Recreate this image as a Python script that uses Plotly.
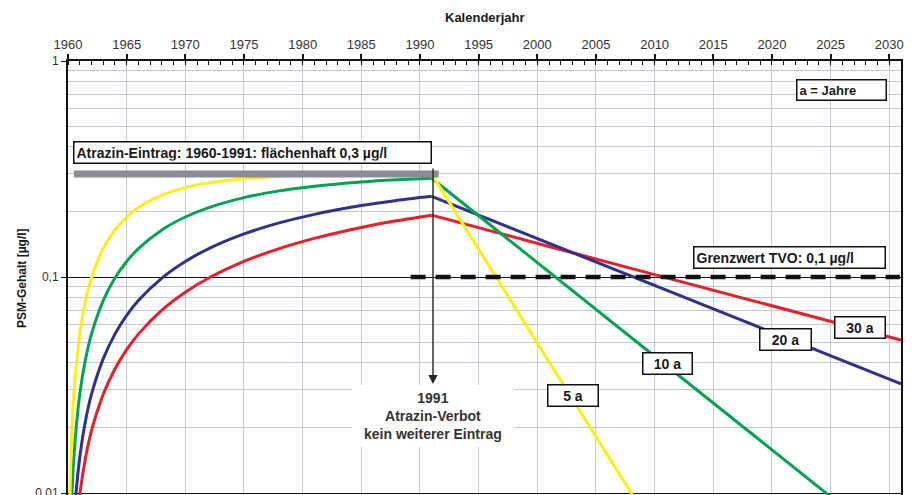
import plotly.graph_objects as go

# ---- data ----
rise_years = [1960.1, 1960.25, 1960.5, 1961, 1961.5, 1962, 1963, 1964, 1965, 1966,
              1968, 1970, 1972, 1975, 1978, 1981, 1985, 1988, 1991]
rise_5a = [0.0059, 0.0146, 0.0286, 0.0544, 0.0778, 0.0989, 0.1354, 0.1652, 0.1896, 0.2096,
           0.2394, 0.2594, 0.2728, 0.2851, 0.2918, 0.2955, 0.2980, 0.2989, 0.2994]
rise_10a = [0.0030, 0.0074, 0.0146, 0.0286, 0.0418, 0.0544, 0.0778, 0.0989, 0.1180, 0.1354,
            0.1652, 0.1896, 0.2096, 0.2331, 0.2504, 0.2633, 0.2754, 0.2818, 0.2865]
rise_20a = [0.0015, 0.0037, 0.0074, 0.0146, 0.0217, 0.0286, 0.0418, 0.0544, 0.0664, 0.0778,
            0.0989, 0.1180, 0.1354, 0.1583, 0.1780, 0.1950, 0.2141, 0.2260, 0.2363]
rise_30a = [0.0010, 0.0025, 0.0050, 0.0098, 0.0146, 0.0194, 0.0286, 0.0375, 0.0461, 0.0544,
            0.0702, 0.0850, 0.0989, 0.1180, 0.1354, 0.1510, 0.1696, 0.1820, 0.1933]

decay_years = [1991, 1993, 1996, 2001, 2006, 2011, 2016, 2021, 2026, 2031]
decay_5a = [0.2994, 0.2007, 0.1101, 0.0405, 0.0149, 0.0055]
decay_10a = [0.2865, 0.2346, 0.1738, 0.1054, 0.0639, 0.0388, 0.0235, 0.0143, 0.0087]
decay_20a = [0.2363, 0.2138, 0.1840, 0.1433, 0.1116, 0.0869, 0.0677, 0.0527, 0.0411, 0.0320]
decay_30a = [0.1933, 0.1806, 0.1637, 0.1385, 0.1172, 0.0992, 0.0840, 0.0711, 0.0602, 0.0510]

input_years = [1960.5, 1991.6]
input_conc = [0.3, 0.3]
limit_years = [1989.2, 2030.9]
limit_value = [0.1, 0.1]

x_ticks = list(range(1960, 2031, 5))
y_ticks = [0.01, 0.1, 1]
y_ticktext = ["0,01", "0,1", "1"]
y_minor = [m * d for d in (0.01, 0.1) for m in range(2, 10)]

series = [
    ("30 a", rise_30a, decay_30a, "#EE1C25"),
    ("20 a", rise_20a, decay_20a, "#2E3192"),
    ("10 a", rise_10a, decay_10a, "#00A650"),
    ("5 a", rise_5a, decay_5a, "#FFEE10"),
]

FONT = "Liberation Sans, Arial, sans-serif"

fig = go.Figure()
for name, rise, decay, color in series:
    fig.add_trace(go.Scatter(x=rise_years, y=rise, mode="lines", name=name,
                             line=dict(color=color, width=3, shape="spline", smoothing=0.8),
                             showlegend=False, hoverinfo="skip"))
    fig.add_trace(go.Scatter(x=decay_years[:len(decay)], y=decay, mode="lines", name=name,
                             line=dict(color=color, width=3),
                             showlegend=False, hoverinfo="skip"))

fig.add_trace(go.Scatter(x=input_years, y=input_conc, mode="lines",
                         line=dict(color="#8A8E94", width=7), showlegend=False, hoverinfo="skip"))
fig.add_trace(go.Scatter(x=limit_years, y=limit_value, mode="lines",
                         line=dict(color="#111111", width=4.5, dash="15px,10px"),
                         showlegend=False, hoverinfo="skip"))

# page is offset by the 8px body margin: figure px = reference px - 8
OFF = 8
W, H = 914 - OFF, 495 - OFF
L, R, T, B = 68 - OFF, 901 - OFF, 61 - OFF, 495 - OFF
Y_BOTTOM = -2 - 2 / 216.0   # 0.01 sits 2px above the bottom edge


def px(xp):
    return (xp - OFF - L) / (R - L)


def py(yp):
    return (B - (yp - OFF)) / (B - T)


ann = []


def box(text, xc, yc, w, anchor="center", size=14):
    ann.append(dict(text="<b>%s</b>" % text, xref="paper", yref="paper",
                    x=px(xc), y=py(yc), xanchor=anchor, yanchor="middle",
                    showarrow=False, bgcolor="white", bordercolor="#111111",
                    borderwidth=1.5, borderpad=2, width=w,
                    align="left" if anchor == "left" else "center",
                    font=dict(family=FONT, size=size, color="#1a1a1a")))


box("Atrazin-Eintrag: 1960-1991: flächenhaft 0,3 µg/l", 73, 152, 352, anchor="left")
box("a = Jahre", 796, 89.5, 84, anchor="left", size=13)
box("Grenzwert TVO: 0,1 µg/l", 693, 257.5, 186, anchor="left")
box("5 a", 573, 395.5, 45)
box("10 a", 667.5, 363, 44)
box("20 a", 785.5, 339, 46)
box("30 a", 860, 327.5, 45)

ann.append(dict(text="", xref="paper", yref="paper", x=px(433), y=py(384),
                ax=0, ay=-217, showarrow=True, arrowhead=2, arrowsize=1.3,
                arrowwidth=1.4, arrowcolor="#222222", standoff=0))
ann.append(dict(text="<b>1991<br>Atrazin-Verbot<br>kein weiterer Eintrag</b>",
                xref="paper", yref="paper", x=px(433), y=py(416),
                xanchor="center", yanchor="middle", showarrow=False,
                font=dict(family=FONT, size=14, color="#333333")))

# axis titles
ann.append(dict(text="<b>Kalenderjahr</b>", xref="paper", yref="paper",
                x=px(484), y=py(17), xanchor="center", yanchor="middle",
                showarrow=False, font=dict(family=FONT, size=13, color="#1a1a1a")))
ann.append(dict(text="<b>PSM-Gehalt [µg/l]</b>", xref="paper", yref="paper",
                x=px(22), y=py(278), xanchor="center", yanchor="middle", textangle=-90,
                showarrow=False, font=dict(family=FONT, size=12, color="#1a1a1a")))

shapes = [dict(type="rect", xref="paper", yref="paper", x0=px(352), x1=px(514),
               y0=py(447), y1=py(385), fillcolor="white", line=dict(width=0),
               layer="above")]

fig.update_layout(
    width=W, height=H,
    margin=dict(l=L, r=W - R, t=T, b=H - B),
    paper_bgcolor="white", plot_bgcolor="white",
    font=dict(family=FONT, size=13, color="#333333"),
    separators=",.",
    annotations=ann, shapes=shapes,
    xaxis=dict(
        side="top", range=[1960, 2031], tickvals=x_ticks, automargin=False,
        ticks="outside", ticklen=5, tickwidth=1.5, tickcolor="#111111",
        showgrid=True, gridcolor="#C5C9D1", gridwidth=1,
        showline=True, linecolor="#111111", linewidth=2,
        zeroline=False, ticklabeloverflow="allow",
        tickfont=dict(family=FONT, size=13, color="#333333"),
        minor=dict(dtick=1, ticks="inside", ticklen=4, tickwidth=1.2,
                   tickcolor="#111111", showgrid=False),
    ),
    xaxis2=dict(
        overlaying="x", side="top", range=[1960, 2031], tickvals=x_ticks, automargin=False,
        ticks="inside", ticklen=5, tickwidth=1.5, tickcolor="#111111",
        showticklabels=False, showgrid=False, showline=False, zeroline=False,
    ),
    yaxis=dict(
        type="log", range=[Y_BOTTOM, 0], tickvals=y_ticks, ticktext=y_ticktext, automargin=False,
        ticks="outside", ticklen=5, tickwidth=1.2, tickcolor="#111111",
        showgrid=True, gridcolor="#111111", gridwidth=1,
        showline=True, linecolor="#111111", linewidth=2, mirror=True,
        zeroline=False, ticklabeloverflow="allow",
        tickfont=dict(family=FONT, size=12, color="#333333"),
        minor=dict(tickvals=y_minor, showgrid=True, gridcolor="#C5C9D1",
                   gridwidth=1, ticks=""),
    ),
)

fig.write_html("out.html")
